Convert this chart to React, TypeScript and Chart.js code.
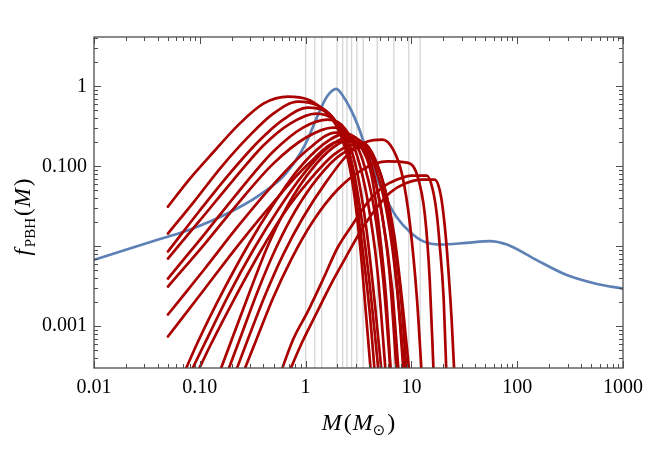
import React, { useEffect, useRef } from "react";
import { Chart, registerables } from "chart.js";

Chart.register(...registerables);

const X_MIN = 0.01;
const X_MAX = 1000;
const Y_MIN = 3.02e-4;
const Y_MAX = 4.14;

const xTickValues = [0.01, 0.1, 1, 10, 100, 1000];
const xTickLabels = ["0.01", "0.10", "1", "10", "100", "1000"];
const yTickValues = [0.001, 0.01, 0.1, 1];
const yTickLabels = ["0.001", "", "0.100", "1"];

// Blue curve (mass function)
const blueMass = [0.01, 0.02, 0.042, 0.085, 0.176, 0.358, 0.64, 0.99, 1.31, 1.6, 1.95, 2.32, 2.7, 3.1, 4.1, 5.5, 7.3, 9.7, 13.0, 18.5, 33, 55, 80, 150, 290, 556, 1000];
const blueF = [0.00676, 0.00903, 0.0123, 0.0166, 0.0251, 0.0427, 0.079, 0.186, 0.44, 0.75, 0.93, 0.716, 0.5, 0.33, 0.115, 0.0447, 0.0229, 0.0151, 0.0115, 0.0105, 0.011, 0.0116, 0.0105, 0.0068, 0.0044, 0.0034, 0.00295];

// Gray vertical marker masses
const grayMasses = [1.0, 1.22, 1.42, 1.98, 2.24, 2.46, 2.72, 3.05, 3.5, 4.76, 6.83, 9.44, 12.1];

// Red curves: masses and values
const redMasses: number[][] = [
  [0.05, 0.0793, 0.136, 0.233, 0.399, 0.684, 1.05, 1.46, 1.93, 2.39, 2.84, 3.3, 3.76, 4.19],
  [0.05, 0.0883, 0.158, 0.289, 0.495, 0.849, 1.31, 1.81, 2.29, 2.84, 3.37, 4.01, 4.56],
  [0.05, 0.0983, 0.188, 0.358, 0.614, 1.05, 1.55, 2.1, 2.66, 3.23, 3.84, 4.47, 4.97],
  [0.05, 0.0983, 0.209, 0.399, 0.715, 1.25, 1.85, 2.5, 3.1, 3.76, 4.47, 5.31],
  [0.05, 0.11, 0.233, 0.495, 0.946, 1.62, 2.39, 3.1, 3.84, 4.76, 5.78],
  [0.05, 0.11, 0.233, 0.495, 1.01, 1.81, 2.6, 3.45, 4.37, 5.42, 6.44],
  [0.05, 0.11, 0.233, 0.495, 1.05, 1.93, 2.97, 4.01, 5.19, 6.58, 7.66],
  [0.05, 0.11, 0.233, 0.495, 1.05, 2.1, 3.45, 4.76, 6.31, 7.99, 9.1],
  [0.0667, 0.0983, 0.169, 0.289, 0.495, 0.849, 1.46, 2.24, 3.1, 4.01, 4.97, 6.17, 7.33],
  [0.0759, 0.11, 0.188, 0.322, 0.552, 0.946, 1.62, 2.5, 3.52, 4.56, 5.91, 7.33, 8.53],
  [0.0883, 0.127, 0.218, 0.374, 0.641, 1.1, 1.85, 2.84, 4.01, 5.31, 6.87, 8.34, 9.7],
  [0.145, 0.209, 0.302, 0.445, 0.684, 1.1, 1.81, 2.6, 3.37, 4.19, 4.97, 5.78, 6.44],
  [0.172, 0.248, 0.358, 0.528, 0.813, 1.31, 2.15, 3.23, 4.37, 5.54, 6.73, 7.82, 8.71],
  [0.205, 0.289, 0.417, 0.614, 0.946, 1.55, 2.5, 3.84, 5.31, 6.73, 8.17, 9.7, 11.3, 12.6],
  [0.243, 0.343, 0.495, 0.73, 1.17, 2.01, 3.45, 5.91, 9.1, 11.3, 13.4, 14.9, 16.3],
  [0.552, 0.762, 1.05, 1.46, 2.01, 2.78, 3.84, 5.31, 7.33, 10.1, 14.0, 15.9, 17.4, 18.5, 20.2, 21.5],
  [0.655, 0.906, 1.25, 1.73, 2.39, 3.3, 4.56, 6.31, 8.71, 12.6, 16.6, 18.9, 20.6, 22.0, 24.0, 25.6],
];
const redValues: number[][] = [
  [0.0313, 0.0682, 0.153, 0.332, 0.608, 0.743, 0.682, 0.511, 0.332, 0.162, 0.0512, 0.0091, 0.00121, 0.000216],
  [0.0144, 0.0362, 0.0964, 0.235, 0.456, 0.644, 0.574, 0.406, 0.216, 0.0682, 0.0121, 0.00162, 0.000216],
  [0.00859, 0.0272, 0.0787, 0.204, 0.383, 0.542, 0.483, 0.305, 0.129, 0.0332, 0.0059, 0.00091, 0.000216],
  [0.00702, 0.0204, 0.0682, 0.182, 0.342, 0.456, 0.383, 0.216, 0.0787, 0.0162, 0.00216, 0.000216],
  [0.00394, 0.014, 0.0483, 0.153, 0.305, 0.383, 0.288, 0.129, 0.0384, 0.00512, 0.000216],
  [0.00313, 0.0105, 0.0352, 0.108, 0.229, 0.305, 0.249, 0.121, 0.0332, 0.00384, 0.000216],
  [0.0014, 0.00512, 0.0182, 0.059, 0.162, 0.264, 0.229, 0.115, 0.0288, 0.00288, 0.000216],
  [0.000743, 0.00288, 0.0105, 0.0352, 0.105, 0.204, 0.198, 0.105, 0.0249, 0.00216, 0.000216],
  [0.000216, 0.000682, 0.00288, 0.0105, 0.0332, 0.091, 0.187, 0.249, 0.216, 0.121, 0.0384, 0.00512, 0.000216],
  [0.000216, 0.00059, 0.00249, 0.0091, 0.0288, 0.0787, 0.171, 0.229, 0.192, 0.0964, 0.0249, 0.00288, 0.000216],
  [0.000216, 0.00059, 0.00235, 0.00859, 0.0272, 0.0682, 0.14, 0.187, 0.153, 0.0682, 0.014, 0.00162, 0.000216],
  [0.000216, 0.000787, 0.00288, 0.0105, 0.0332, 0.0859, 0.171, 0.216, 0.171, 0.0787, 0.0162, 0.00216, 0.000216],
  [0.000216, 0.000787, 0.00288, 0.00964, 0.0288, 0.0722, 0.14, 0.171, 0.129, 0.0512, 0.0091, 0.00121, 0.000216],
  [0.000216, 0.000722, 0.00249, 0.00787, 0.0229, 0.0625, 0.14, 0.204, 0.216, 0.162, 0.0787, 0.0187, 0.00216, 0.000216],
  [0.000216, 0.000682, 0.00229, 0.00682, 0.0204, 0.0512, 0.091, 0.115, 0.111, 0.0787, 0.0249, 0.00384, 0.000216],
  [0.000216, 0.000682, 0.00153, 0.00384, 0.00964, 0.0187, 0.0352, 0.0542, 0.0682, 0.0765, 0.0765, 0.0512, 0.0249, 0.0105, 0.00216, 0.000216],
  [0.000216, 0.00059, 0.0014, 0.00332, 0.00722, 0.0153, 0.0288, 0.0469, 0.0608, 0.0682, 0.0682, 0.0443, 0.0187, 0.00682, 0.00121, 0.000216],
];

const BLUE = "#5e81b5";
const RED = "#aa0000";
const GRAY = "rgba(195,195,195,0.7)";
const FRAME = "#4d4d4d";
const SERIF = '"Liberation Serif", "Times New Roman", serif';

function labelFor(values: number[], labels: string[], v: number): string {
  const i = values.findIndex((t) => Math.abs(Math.log10(t) - Math.log10(v)) < 1e-6);
  return i >= 0 ? labels[i] : "";
}

type Piece = { text: string; font: string; dy?: number; gap?: number };

function drawPieces(ctx: CanvasRenderingContext2D, pieces: Piece[], cx: number, baseY: number) {
  let total = 0;
  const widths = pieces.map((p) => {
    ctx.font = p.font;
    const w = ctx.measureText(p.text).width;
    total += w + (p.gap || 0);
    return w;
  });
  let x = cx - total / 2;
  ctx.textAlign = "left";
  ctx.textBaseline = "alphabetic";
  pieces.forEach((p, i) => {
    x += p.gap || 0;
    ctx.font = p.font;
    ctx.fillText(p.text, x, baseY + (p.dy || 0));
    x += widths[i];
  });
}

const frameTicksPlugin = {
  id: "frameTicks",
  afterDraw(chart: any) {
    const { ctx, chartArea } = chart;
    const { left, right, top, bottom } = chartArea;
    const xs = chart.scales.x;
    const ys = chart.scales.y;
    ctx.save();
    ctx.strokeStyle = FRAME;
    ctx.lineWidth = 1.3;
    ctx.strokeRect(left, top, right - left, bottom - top);
    ctx.lineWidth = 1;
    ctx.beginPath();
    for (let e = -2; e <= 3; e++) {
      for (let k = 1; k <= 9; k++) {
        const v = k * Math.pow(10, e);
        if (v < X_MIN * 0.999 || v > X_MAX * 1.001) continue;
        const px = Math.round(xs.getPixelForValue(v)) + 0.5;
        const len = k === 1 ? 7 : 4;
        ctx.moveTo(px, bottom);
        ctx.lineTo(px, bottom - len);
        ctx.moveTo(px, top);
        ctx.lineTo(px, top + len);
      }
    }
    for (let e = -4; e <= 0; e++) {
      for (let k = 1; k <= 9; k++) {
        const v = k * Math.pow(10, e);
        if (v < Y_MIN || v > Y_MAX) continue;
        const py = Math.round(ys.getPixelForValue(v)) + 0.5;
        const len = k === 1 ? 7 : 4;
        ctx.moveTo(left, py);
        ctx.lineTo(left + len, py);
        ctx.moveTo(right, py);
        ctx.lineTo(right - len, py);
      }
    }
    ctx.stroke();

    ctx.fillStyle = "#000";
    // x axis title
    drawPieces(
      ctx,
      [
        { text: "M", font: `italic 24px ${SERIF}` },
        { text: "(", font: `24px ${SERIF}`, gap: 2 },
        { text: "M", font: `italic 24px ${SERIF}`, gap: 1 },
        { text: "\u2299", font: `15px "DejaVu Sans", sans-serif`, dy: 5, gap: 0 },
        { text: ")", font: `24px ${SERIF}`, gap: 2 },
      ],
      (left + right) / 2,
      430
    );
    // y axis title
    ctx.save();
    ctx.translate(30, 217);
    ctx.rotate(-Math.PI / 2);
    drawPieces(
      ctx,
      [
        { text: "f", font: `italic 23px ${SERIF}` },
        { text: "PBH", font: `15px ${SERIF}`, dy: 5, gap: 2 },
        { text: "(", font: `23px ${SERIF}`, gap: 2 },
        { text: "M", font: `italic 23px ${SERIF}`, gap: 1 },
        { text: ")", font: `23px ${SERIF}`, gap: 2 },
      ],
      0,
      0
    );
    ctx.restore();
    ctx.restore();
  },
};

export default function App() {
  const canvasRef = useRef<HTMLCanvasElement | null>(null);

  useEffect(() => {
    document.body.style.margin = "0";
    const canvas = canvasRef.current;
    if (!canvas) return;

    const grayDatasets = grayMasses.map((m) => ({
      data: [
        { x: m, y: Y_MIN },
        { x: m, y: Y_MAX },
      ],
      borderColor: GRAY,
      borderWidth: 1.3,
      pointRadius: 0,
      order: 2,
    }));

    const blueDataset = {
      data: blueMass.map((m, i) => ({ x: m, y: blueF[i] })),
      borderColor: BLUE,
      borderWidth: 2.7,
      pointRadius: 0,
      cubicInterpolationMode: "monotone" as const,
      order: 1,
    };

    const redDatasets = redMasses.map((ms, j) => ({
      data: ms.map((m, i) => ({ x: m, y: redValues[j][i] })),
      borderColor: RED,
      borderWidth: 2.7,
      pointRadius: 0,
      cubicInterpolationMode: "monotone" as const,
      order: 0,
    }));

    const chart = new Chart(canvas, {
      type: "line",
      data: { datasets: [...redDatasets, blueDataset, ...grayDatasets] as any },
      options: {
        animation: false,
        responsive: false,
        devicePixelRatio: 1,
        layout: { padding: { top: 37, right: 23, left: 0, bottom: 0 } },
        plugins: { legend: { display: false }, tooltip: { enabled: false } },
        elements: { line: { borderCapStyle: "round", borderJoinStyle: "round" } },
        scales: {
          x: {
            type: "logarithmic",
            position: "bottom",
            min: X_MIN,
            max: X_MAX,
            grid: { display: false, drawTicks: false },
            border: { display: false },
            ticks: {
              color: "#000",
              font: { family: SERIF, size: 20 },
              padding: 8,
              maxRotation: 0,
              autoSkip: false,
              callback: (v: any) => labelFor(xTickValues, xTickLabels, Number(v)),
            },
            afterBuildTicks: (s: any) => {
              s.ticks = xTickValues.map((v) => ({ value: v }));
            },
            afterFit: (s: any) => {
              s.height = 92;
            },
          },
          y: {
            type: "logarithmic",
            position: "left",
            min: Y_MIN,
            max: Y_MAX,
            grid: { display: false, drawTicks: false },
            border: { display: false },
            ticks: {
              color: "#000",
              font: { family: SERIF, size: 20 },
              padding: 7,
              autoSkip: false,
              callback: (v: any) => labelFor(yTickValues, yTickLabels, Number(v)),
            },
            afterBuildTicks: (s: any) => {
              s.ticks = yTickValues.map((v) => ({ value: v }));
            },
            afterFit: (s: any) => {
              s.width = 94;
            },
          },
        },
      } as any,
      plugins: [frameTicksPlugin],
    });

    return () => chart.destroy();
  }, []);

  return (
    <div style={{ position: "absolute", left: 0, top: 0, width: 651, height: 460, background: "#fff" }}>
      <canvas ref={canvasRef} width={651} height={460} style={{ width: 651, height: 460 }} />
    </div>
  );
}
